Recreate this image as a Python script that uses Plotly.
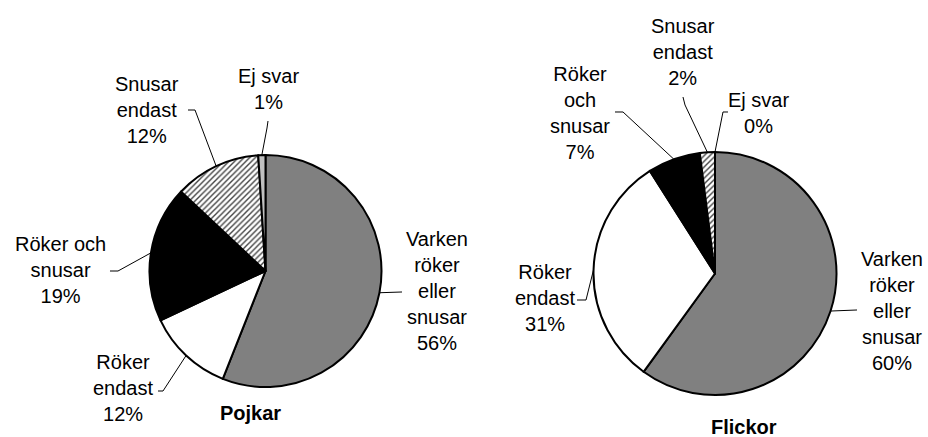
import math
import plotly.graph_objects as go

# ---- data ----
categories = ["Varken röker eller snusar", "Röker endast", "Röker och snusar",
              "Snusar endast", "Ej svar"]
pojkar_values = [56, 12, 19, 12, 1]
flickor_values = [60, 31, 7, 2, 0]
pojkar_labels = ["Varken<br>röker<br>eller<br>snusar", "Röker<br>endast",
                 "Röker och<br>snusar", "Snusar<br>endast", "Ej svar"]
flickor_labels = ["Varken<br>röker<br>eller<br>snusar", "Röker<br>endast",
                  "Röker<br>och<br>snusar", "Snusar<br>endast", "Ej svar"]
titles = ["Pojkar", "Flickor"]

# ---- styling / layout ----
W, H = 928, 437
FONT = "Liberation Sans, Arial, Helvetica, sans-serif"
FS = 20
slice_colors = ["#808080", "#ffffff", "#000000", "#ffffff", "#c0c0c0"]
slice_shapes = ["", "", "", "/", ""]

# pie geometry in pixels: centre x, centre y, radius
pies = [
    dict(cx=265.5, cy=271.0, r=116.0, values=pojkar_values, labels=pojkar_labels,
         # label block centre (x, y) and leader start points (pixel)
         text_pos=[(437, 291), (123, 388), (60, 270), (147, 110), (268, 89)],
         leader=[[(402, 292)], [(158, 391), (163, 391)], [(110, 271), (118, 271)],
                 [(188, 110), (195, 110)], [(268, 121), (267, 128)]],
         title_pos=(250, 413)),
    dict(cx=715.0, cy=273.5, r=121.5, values=flickor_values, labels=flickor_labels,
         text_pos=[(892, 311), (545, 298), (580, 113), (683, 52), (758, 113)],
         leader=[[(857, 310)], [(577, 300), (586, 300)], [(615, 112), (623, 112)],
                 [(683, 97), (685, 105)], [(728, 112), (723, 112)]],
         title_pos=(744, 427)),
]


def px(x):
    return x / W


def py(y):
    return 1 - y / H


fig = go.Figure()
annotations = []
shapes = []

for p, title in zip(pies, titles):
    cx, cy, r = p["cx"], p["cy"], p["r"]
    fig.add_trace(go.Pie(
        labels=categories,
        values=p["values"],
        sort=False,
        direction="clockwise",
        rotation=0,
        textinfo="none",
        hoverinfo="label+value",
        marker=dict(colors=slice_colors,
                    line=dict(color="black", width=2),
                    pattern=dict(shape=slice_shapes, fgcolor="#444444",
                                 size=4, solidity=0.35)),
        domain=dict(x=[px(cx - r), px(cx + r)], y=[py(cy + r), py(cy - r)]),
        showlegend=False,
    ))
    total = sum(p["values"])
    cum = 0
    for v, lab, tp, lead in zip(p["values"], p["labels"], p["text_pos"], p["leader"]):
        mid = (cum + v / 2) / total * 2 * math.pi
        cum += v
        ex = cx + r * math.sin(mid)
        ey = cy - r * math.cos(mid)
        annotations.append(dict(
            x=px(tp[0]), y=py(tp[1]), xref="paper", yref="paper",
            text=f"{lab}<br>{v}%", showarrow=False, align="center",
            xanchor="center", yanchor="middle",
            font=dict(family=FONT, size=FS, color="black")))
        pts = lead + [(ex, ey)]
        path = "M " + " L ".join(f"{px(a):.5f},{py(b):.5f}" for a, b in pts)
        shapes.append(dict(type="path", path=path, xref="paper", yref="paper",
                           line=dict(color="black", width=1)))
    annotations.append(dict(
        x=px(p["title_pos"][0]), y=py(p["title_pos"][1]), xref="paper", yref="paper",
        text=f"<b>{title}</b>", showarrow=False, xanchor="center", yanchor="middle",
        font=dict(family=FONT, size=FS, color="black")))

fig.update_layout(
    width=W, height=H,
    margin=dict(l=0, r=0, t=0, b=0),
    paper_bgcolor="white", plot_bgcolor="white",
    annotations=annotations, shapes=shapes,
)

fig.write_html("out.html",
               config={"displayModeBar": False},
               post_script="document.body.style.margin='0';"
                           "document.body.style.overflow='hidden';")
